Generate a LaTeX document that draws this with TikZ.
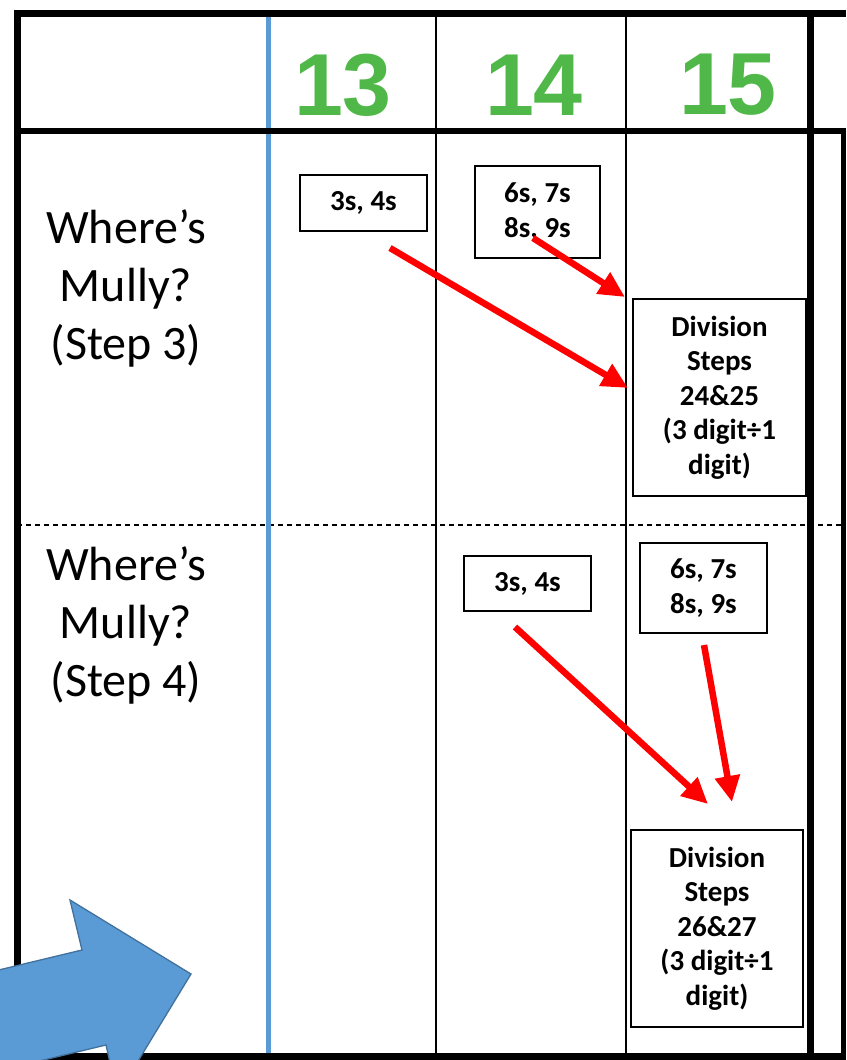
\documentclass[tikz,border=0pt]{standalone}
\usepackage{fontspec}
\setmainfont{Carlito}
\newfontfamily\arialfont{Liberation Sans}
\usetikzlibrary{arrows.meta}
\definecolor{hdrgreen}{RGB}{80,184,72}
\definecolor{bluefill}{RGB}{91,155,213}
\definecolor{blueedge}{RGB}{65,113,156}
\definecolor{arrowred}{RGB}{255,0,0}
\begin{document}
\begin{tikzpicture}[x=1pt,y=-1pt,
  thinline/.style={draw=black,line width=1.4pt},
  thickline/.style={draw=black,line width=7pt},
  dashline/.style={draw=black,line width=1.2pt,dash pattern=on 5pt off 4pt},
  smallbox/.style={draw=black,line width=1.3pt,fill=white,inner sep=0pt,
    font=\fontsize{29}{34.5}\selectfont\bfseries,align=center},
  rowlabel/.style={inner sep=0pt,align=center,font=\fontsize{48}{58}\selectfont},
  daynum/.style={inner sep=0pt,text=hdrgreen,font=\arialfont\bfseries\fontsize{88}{88}\selectfont},
  redarrow/.style={draw=arrowred,line width=6.5pt,-{Triangle[length=26pt,width=24pt]}}
]
\useasboundingbox (0,0) rectangle (846,1060);
\fill[white] (0,0) rectangle (846,1060);

% grid
\draw[thinline] (436,14) -- (436,1057);
\draw[thinline] (626,14) -- (626,1057);
\draw[dashline] (17,525) -- (846,525);
\draw[draw=bluefill,line width=5pt] (268,14) -- (268,1057);
\draw[thickline] (17,10) -- (17,1060);
\draw[thickline] (14,13.5) -- (846,13.5);
\draw[line width=6pt] (14,130.5) -- (846,130.5);
\draw[thickline] (810.5,10) -- (810.5,1060);
\draw[thickline] (14,1056.5) -- (846,1056.5);
\draw[line width=5pt] (843,131) -- (843,1060);

% header numbers
\node[daynum] (d13) at (343,85) {13};
\node[daynum] (d14) at (534,85) {14};
\node[daynum] (d15) at (728,85) {15};

% row labels
\node[rowlabel] (r1) at (126,288) {Where’s\\Mully?\\(Step 3)};
\node[rowlabel] (r2) at (126,625) {Where’s\\Mully?\\(Step 4)};

% boxes row 1
\node[smallbox,minimum width=127pt,minimum height=56pt] (a34) at (363.5,203) {3s, 4s};
\node[smallbox,minimum width=125pt,minimum height=92pt] (a69) at (537.5,212) {6s, 7s\\8s, 9s};
\node[smallbox,minimum width=173pt,minimum height=197pt] (div1) at (719.5,397.5) {Division\\Steps\\24\&25\\(3 digit÷1\\digit)};

% boxes row 2
\node[smallbox,minimum width=127pt,minimum height=55pt] (b34) at (527.5,583.5) {3s, 4s};
\node[smallbox,minimum width=127pt,minimum height=90pt] (b69) at (703.5,588) {6s, 7s\\8s, 9s};
\node[smallbox,minimum width=172pt,minimum height=197pt] (div2) at (717,928.5) {Division\\Steps\\26\&27\\(3 digit÷1\\digit)};

% red arrows
\coordinate (s1) at (390,248);
\coordinate (e1) at (628,388);
\coordinate (s2) at (533,238);
\coordinate (e2) at (625,297);
\coordinate (s3) at (515,627);
\coordinate (e3) at (708,804);
\coordinate (s4) at (704,645);
\coordinate (e4) at (732,802);
\draw[redarrow] (s1) -- (e1);
\draw[redarrow] (s2) -- (e2);
\draw[redarrow] (s3) -- (e3);
\draw[redarrow] (s4) -- (e4);

% blue block arrow
\begin{scope}
\clip (0,0) rectangle (846,1060);
\filldraw[fill=bluefill,draw=blueedge,line width=1.3pt,line join=miter]
  (191,974) -- (117.4,1095) -- (106,1045) -- (-88.5,1091.7) -- (-112.5,996.7)
  -- (82,950) -- (70,900) -- cycle;
\end{scope}
\end{tikzpicture}
\end{document}
